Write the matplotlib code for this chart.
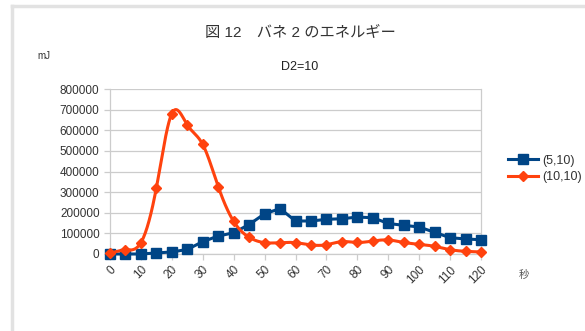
import numpy as np
import matplotlib
matplotlib.use("Agg")
import matplotlib.pyplot as plt
from matplotlib.lines import Line2D

plt.rcParams['font.family'] = ['Liberation Sans', 'Noto Sans CJK JP', 'DejaVu Sans']

# time (s) and spring energy (mJ)
seconds = [0, 5, 10, 15, 20, 25, 30, 35, 40, 45, 50, 55, 60,
           65, 70, 75, 80, 85, 90, 95, 100, 105, 110, 115, 120]
energy_5_10 = [0, 0, 0, 5000, 10000, 22000, 60000, 87000, 103000, 143000,
               195000, 220000, 160000, 160000, 168000, 171000, 179000, 176000,
               148000, 139000, 131000, 105000, 79000, 73000, 69000]
energy_10_10 = [3000, 19000, 55000, 321000, 681000, 626000, 531000, 327000,
                158000, 81000, 55000, 55000, 55000, 44000, 45000, 60000, 56000,
                63000, 68000, 56000, 47000, 37000, 21000, 13000, 10000]
x_labels = [str(v) for v in range(0, 121, 10)]
y_ticks = list(range(0, 800001, 100000))


def natural_spline(x, y, n=600):
    x = np.asarray(x, float)
    y = np.asarray(y, float)
    m = len(x)
    h = np.diff(x)
    A = np.zeros((m, m))
    r = np.zeros(m)
    A[0, 0] = A[-1, -1] = 1.0
    for i in range(1, m - 1):
        A[i, i - 1] = h[i - 1]
        A[i, i] = 2 * (h[i - 1] + h[i])
        A[i, i + 1] = h[i]
        r[i] = 3 * ((y[i + 1] - y[i]) / h[i] - (y[i] - y[i - 1]) / h[i - 1])
    c = np.linalg.solve(A, r)
    xs = np.linspace(x[0], x[-1], n)
    idx = np.clip(np.searchsorted(x, xs) - 1, 0, m - 2)
    dx = xs - x[idx]
    hi = h[idx]
    b = (y[idx + 1] - y[idx]) / hi - hi * (2 * c[idx] + c[idx + 1]) / 3
    d = (c[idx + 1] - c[idx]) / (3 * hi)
    ys = y[idx] + b * dx + c[idx] * dx ** 2 + d * dx ** 3
    return xs, ys


blue = '#004586'
orange = '#ff420e'
text_col = '#333333'
grid_col = '#cccccc'

fig = plt.figure(figsize=(5.85, 3.31), dpi=100)
fig.patch.set_facecolor('white')

# frame lines along top and left
fig.add_artist(Line2D([12 / 585, 12 / 585], [0, 1 - 6 / 331], transform=fig.transFigure,
                      color='#e2e2e2', lw=2.5))
fig.add_artist(Line2D([12 / 585, 1], [1 - 6 / 331, 1 - 6 / 331], transform=fig.transFigure,
                      color='#e2e2e2', lw=2.5))

ax = fig.add_axes([110 / 585, 1 - 254 / 331, 371 / 585, 165 / 331])

ax.plot(seconds, energy_5_10, color=blue, lw=2.2, marker='s', markersize=7,
        label='(5,10)', zorder=3, clip_on=False)
xs, ys = natural_spline(seconds, energy_10_10)
ax.plot(xs, ys, color=orange, lw=2.2, zorder=4, clip_on=False)
ax.plot(seconds, energy_10_10, color=orange, lw=0, marker='D', markersize=5,
        zorder=4, clip_on=False)
leg_handles = [Line2D([], [], color=blue, lw=2.2, marker='s', markersize=7),
               Line2D([], [], color=orange, lw=2.2, marker='D', markersize=5)]

ax.set_xlim(0, 120)
ax.set_ylim(0, 800000)
ax.set_yticks(y_ticks)
ax.set_yticklabels([str(v) for v in y_ticks])
ax.set_xticks(range(0, 121, 10))
ax.set_xticklabels(x_labels, rotation=45, ha='right', rotation_mode='anchor')
ax.set_xticks(seconds, minor=True)
ax.grid(axis='y', color=grid_col, lw=0.9)
ax.set_axisbelow(True)
for s in ['top']:
    ax.spines[s].set_visible(False)
for s in ['left', 'right', 'bottom']:
    ax.spines[s].set_color(grid_col)
    ax.spines[s].set_linewidth(0.9)
ax.tick_params(axis='both', colors=grid_col, labelcolor=text_col, labelsize=8.5,
               length=4, width=0.9)
ax.tick_params(axis='x', which='minor', length=0)
ax.tick_params(axis='x', pad=3)

fig.text(300 / 585, 1 - 33 / 331, '図 12\u3000バネ 2 のエネルギー', ha='center', va='center',
         fontsize=11, color=text_col)
fig.text(300 / 585, 1 - 67 / 331, 'D2=10', ha='center', va='center', fontsize=9,
         color='#222222')
fig.text(44 / 585, 1 - 56 / 331, 'mJ', ha='center', va='center', fontsize=7,
         color=text_col)
fig.text(524 / 585, 1 - 275 / 331, '秒', ha='center', va='center', fontsize=7.5,
         color='#555555')

fig.legend(leg_handles, ['(5,10)', '(10,10)'], loc='center left',
           bbox_to_anchor=(497 / 585, 1 - 169 / 331), frameon=False, fontsize=9,
           handlelength=2.4, handletextpad=0.3, labelspacing=0.35,
           labelcolor=text_col)

fig.savefig('out.png', dpi=100, facecolor='white')
